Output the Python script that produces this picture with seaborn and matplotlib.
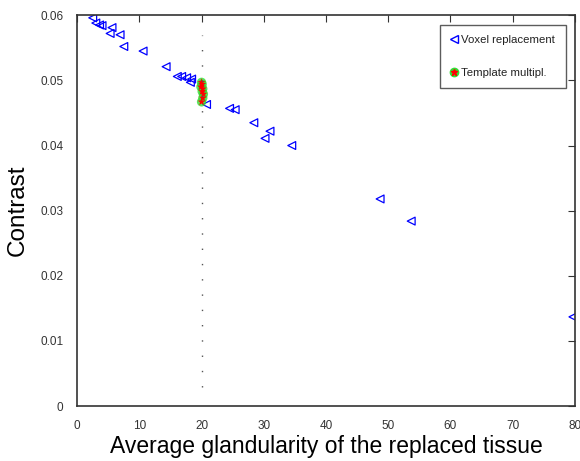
import numpy as np
import pandas as pd
import seaborn as sns
import matplotlib.pyplot as plt
from matplotlib.lines import Line2D

# Voxel replacement results
voxel_gland = [2.5, 3.0, 3.6, 4.0, 5.6, 5.3, 6.9, 7.5, 10.6, 14.3, 16.1, 16.8, 17.6,
               18.2, 18.4, 20.8, 24.5, 25.4, 28.4, 31.0, 30.2, 34.5, 48.7, 53.7, 79.7]
voxel_contrast = [0.0596, 0.0588, 0.0585, 0.0584, 0.0581, 0.0572, 0.0570, 0.0552,
                  0.0545, 0.0521, 0.0506, 0.0506, 0.0504, 0.0497, 0.0502, 0.0463,
                  0.0457, 0.0455, 0.0435, 0.0422, 0.0411, 0.0400, 0.0318, 0.0284, 0.0137]

# Template multiplication results
templ_gland = [20.0, 20.1, 19.9, 20.2, 20.1, 20.3, 20.2, 20.0]
templ_contrast = [0.0497, 0.0494, 0.0490, 0.0487, 0.0483, 0.0479, 0.0473, 0.0467]

ref_gland = 20
ref_range = [0.003, 0.057]

sns.set_style("white")
plt.rcParams['font.family'] = ['Liberation Sans', 'DejaVu Sans']
plt.rcParams['xtick.direction'] = 'in'
plt.rcParams['ytick.direction'] = 'in'

fig = plt.figure(figsize=(5.8, 4.61), dpi=100)
ax = fig.add_axes([0.133, 0.119, 0.858, 0.848])

# reference glandularity (dotted)
ax.plot([ref_gland, ref_gland], ref_range, color='#555555', lw=1,
        linestyle=(0, (1, 10)))

sns.scatterplot(x=voxel_gland, y=voxel_contrast, marker='<', s=32,
                facecolors='none', edgecolors='blue', linewidth=0.9, ax=ax)
sns.scatterplot(x=templ_gland, y=templ_contrast, marker='o', s=45,
                color='#33dd33', edgecolor='none', alpha=0.8, ax=ax)
sns.scatterplot(x=templ_gland, y=templ_contrast, marker='*', s=35,
                color='red', edgecolor='none', ax=ax)

ax.set_xlim(0, 80)
ax.set_ylim(0, 0.06)
ax.set_xticks(np.arange(0, 81, 10))
ax.set_yticks(np.arange(0, 0.061, 0.01))
ax.set_yticklabels(['0', '0.01', '0.02', '0.03', '0.04', '0.05', '0.06'])
ax.tick_params(labelsize=8.5, length=5, top=True, right=True, pad=10,
               labelcolor='#333333', color='#333333')
for s in ax.spines.values():
    s.set_color('#333333')
    s.set_linewidth(1.2)

ax.set_xlabel('Average glandularity of the replaced tissue', fontsize=16.5,
              labelpad=2, color='black')
ax.set_ylabel('Contrast', fontsize=17.5, labelpad=8, color='black')

h1 = Line2D([], [], marker='<', linestyle='none', markerfacecolor='none',
            markeredgecolor='blue', markersize=5.5)
h2a = Line2D([], [], marker='o', linestyle='none', color='#33dd33', markersize=6)
h2b = Line2D([], [], marker='*', linestyle='none', color='red', markersize=5)
leg = ax.legend([h1, (h2a, h2b)], ['Voxel replacement', 'Template multipl.'],
                loc='upper right', fontsize=8.2, labelspacing=2.0, handlelength=0.7,
                handletextpad=0.3, fancybox=False, borderpad=0.9,
                bbox_to_anchor=(0.993, 0.99))
leg.get_frame().set_edgecolor('#333333')
leg.get_frame().set_linewidth(1)
for t in leg.get_texts():
    t.set_color('#222222')

fig.savefig('out.png', dpi=100)
